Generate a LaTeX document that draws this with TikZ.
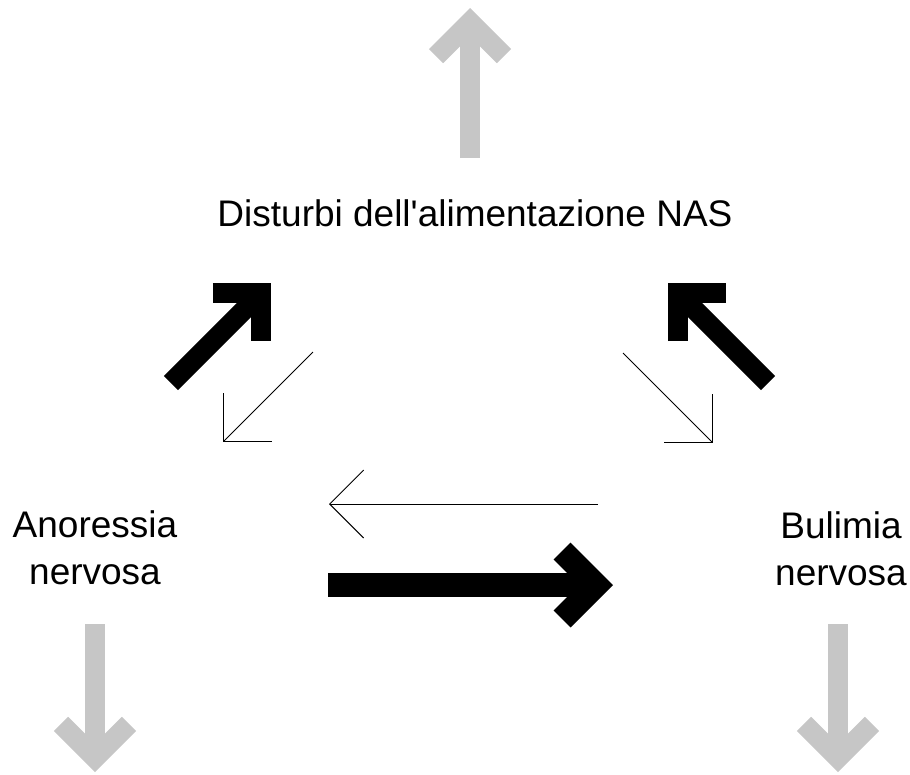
\documentclass[tikz,border=0pt]{standalone}
\usepackage{fontspec}
\setmainfont{Liberation Sans}
\usetikzlibrary{arrows.meta}
\definecolor{lightgrey}{RGB}{198,198,198}

\begin{document}
\begin{tikzpicture}[x=1pt, y=-1pt,
        every node/.style={font=\fontsize{37}{47}\selectfont, inner sep=0pt, align=center},
        greyarrow/.style={draw=lightgrey, line width=20pt, -{Straight Barb[sharp, length=34pt, width=68pt]}},
        bigarrow/.style={draw=black, line width=20pt, -{Straight Barb[sharp, length=34pt, width=68pt]}},
        thinarrow/.style={draw=black, line width=0.9pt, -{Straight Barb[sharp, length=34pt, width=68pt]}}]
    \useasboundingbox (0,0) rectangle (910,774);

    \node (nas) [anchor=base] at (475,226) {Disturbi dell\textquotesingle alimentazione NAS};
    \node (anoressia) at (95,548) {Anoressia\\nervosa};
    \node (bulimia) at (841,549) {Bulimia\\nervosa};

    % grey arrows out of the picture
    \coordinate (up start) at (470,158);
    \coordinate (up end) at (470,8);
    \coordinate (an start) at (95,624);
    \coordinate (an end) at (95,772);
    \coordinate (bu start) at (838,624);
    \coordinate (bu end) at (838,772);
    \draw[greyarrow] (up start) -- (up end);
    \draw[greyarrow] (an start) -- (an end);
    \draw[greyarrow] (bu start) -- (bu end);

    % thick arrows
    \coordinate (an up start) at (171,383);
    \coordinate (an up end) at (271,283);
    \coordinate (bu up start) at (768,383);
    \coordinate (bu up end) at (668,283);
    \coordinate (cross start) at (328,585);
    \coordinate (cross end) at (613,585);
    \draw[bigarrow] (an up start) -- (an up end);
    \draw[bigarrow] (bu up start) -- (bu up end);
    \draw[bigarrow, line width=24pt] (cross start) -- (cross end);

    % thin arrows
    \coordinate (an down start) at (313,352);
    \coordinate (an down end) at (223,442);
    \coordinate (bu down start) at (623,353);
    \coordinate (bu down end) at (713,443);
    \coordinate (back start) at (598,504);
    \coordinate (back end) at (329,504);
    \draw[thinarrow] (an down start) -- (an down end);
    \draw[thinarrow] (bu down start) -- (bu down end);
    \draw[thinarrow] (back start) -- (back end);
\end{tikzpicture}
\end{document}
